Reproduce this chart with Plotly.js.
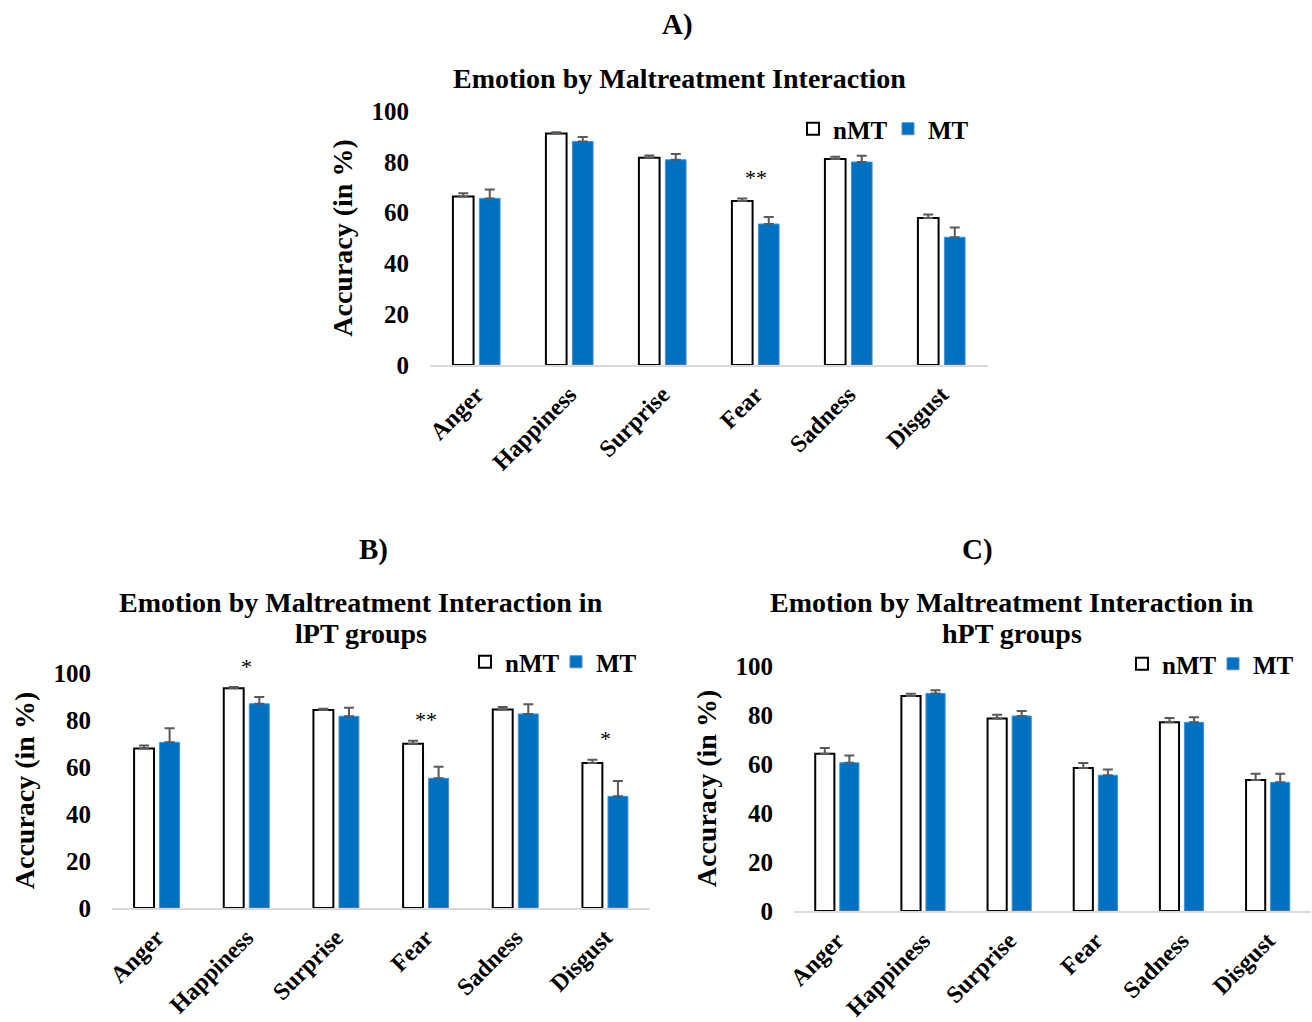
<!DOCTYPE html>
<html>
<head>
<meta charset="utf-8">
<script src="https://cdn.plot.ly/plotly-3.0.1.min.js"></script>
<style>html,body{margin:0;padding:0;background:#fff;} #chart{width:1312px;height:1022px;}</style>
</head>
<body>
<div id="chart"></div>
<script>
// ---- data ----
const categories = ['Anger', 'Happiness', 'Surprise', 'Fear', 'Sadness', 'Disgust'];
const groupNames = ['nMT', 'MT'];

const A_nMT    = [66.3, 91.1, 81.6, 64.6, 81.1, 57.9];
const A_nMT_se = [1.3, 0.5, 0.9, 1.0, 0.9, 1.4];
const A_MT     = [65.6, 88.0, 80.8, 55.5, 79.9, 50.3];
const A_MT_se  = [3.5, 1.8, 2.3, 2.8, 2.5, 3.8];
const A_sig    = ['', '', '', '**', '', ''];

const B_nMT    = [67.9, 93.5, 84.3, 69.9, 84.5, 61.7];
const B_nMT_se = [1.3, 0.5, 0.5, 1.3, 1.0, 1.4];
const B_MT     = [70.5, 86.9, 81.6, 55.2, 82.6, 47.5];
const B_MT_se  = [6.0, 2.9, 3.6, 4.9, 4.1, 6.5];
const B_sig    = ['', '*', '', '**', '', '*'];

const C_nMT    = [64.2, 87.8, 78.6, 58.4, 77.0, 53.5];
const C_nMT_se = [2.3, 0.9, 1.5, 2.0, 1.8, 2.5];
const C_MT     = [60.5, 88.8, 79.6, 55.4, 77.0, 52.5];
const C_MT_se  = [3.0, 1.3, 2.0, 2.4, 2.1, 3.5];
const C_sig    = ['', '', '', '', '', ''];

const yTicks = [0, 20, 40, 60, 80, 100];

// ---- styling ----
const FONT = 'Liberation Serif, Times New Roman, serif';
const W = 1312, H = 1022;
const blue = '#0070C0';
const errColor = '#595959';

function zeros(n) { return new Array(n).fill(0); }

function panelTraces(nmt, nmtSe, mt, mtSe, xa, ya, legendId) {
  return [
    {
      type: 'bar', name: groupNames[0], x: categories, y: nmt,
      xaxis: xa, yaxis: ya, legend: legendId,
      marker: { color: '#ffffff', line: { color: '#000000', width: 2 } },
      error_y: { type: 'data', symmetric: false, array: nmtSe, arrayminus: zeros(nmt.length),
                 color: errColor, thickness: 2, width: 5 },
      hoverinfo: 'x+y'
    },
    {
      type: 'bar', name: groupNames[1], x: categories, y: mt,
      xaxis: xa, yaxis: ya, legend: legendId,
      marker: { color: blue, line: { color: '#4a90d0', width: 1 } },
      error_y: { type: 'data', symmetric: false, array: mtSe, arrayminus: zeros(mt.length),
                 color: errColor, thickness: 2, width: 5 },
      hoverinfo: 'x+y'
    }
  ];
}

// significance stars: anchored at the top of the tallest error bar, lifted a few pixels
function sigNotes(nmt, nmtSe, mt, mtSe, sig, xa, ya) {
  const out = [];
  sig.forEach((s, i) => {
    if (!s) return;
    out.push({
      text: s, xref: xa, yref: ya, x: categories[i],
      y: Math.max(nmt[i] + nmtSe[i], mt[i] + mtSe[i]),
      xanchor: 'center', yanchor: 'middle', yshift: 21, showarrow: false,
      font: { family: FONT, size: 22, color: '#000' }
    });
  });
  return out;
}

const data = [].concat(
  panelTraces(A_nMT, A_nMT_se, A_MT, A_MT_se, 'x', 'y', 'legend'),
  panelTraces(B_nMT, B_nMT_se, B_MT, B_MT_se, 'x2', 'y2', 'legend2'),
  panelTraces(C_nMT, C_nMT_se, C_MT, C_MT_se, 'x3', 'y3', 'legend3')
);

function px2x(p) { return p / W; }
function px2y(p) { return 1 - p / H; }

function xAxis(d0, d1, anchor) {
  return {
    domain: [px2x(d0), px2x(d1)], anchor: anchor,
    type: 'category', categoryorder: 'array', categoryarray: categories,
    showline: true, linecolor: '#d9d9d9', linewidth: 2,
    showgrid: false, zeroline: false, ticks: '',
    tickangle: -45, ticklabelstandoff: 4,
    tickfont: { family: FONT, size: 24, color: '#000', weight: 'bold' }
  };
}
function yAxis(hundredPx, zeroPx, anchor) {
  return {
    domain: [px2y(zeroPx), px2y(hundredPx)], anchor: anchor,
    range: [0, 100], tickvals: yTicks, ticktext: yTicks.map(String),
    showline: false, showgrid: false, zeroline: false, ticks: '',
    ticklabelstandoff: 20,
    tickfont: { family: FONT, size: 25, color: '#000', weight: 'bold' },
    title: { text: '<b>Accuracy (in %)</b>', standoff: 10,
             font: { family: FONT, size: 28, color: '#000' } }
  };
}

function legendAt(xp, yp, ew) {
  return {
    orientation: 'h', x: px2x(xp), y: px2y(yp), xanchor: 'left', yanchor: 'middle',
    bgcolor: 'rgba(0,0,0,0)', borderwidth: 0,
    entrywidth: ew, entrywidthmode: 'pixels',
    font: { family: FONT, size: 25, color: '#000', weight: 'bold' },
    itemclick: false, itemdoubleclick: false
  };
}

function txt(text, xp, yp, size) {
  return {
    text: text, xref: 'paper', yref: 'paper', x: px2x(xp), y: px2y(yp),
    xanchor: 'center', yanchor: 'middle', showarrow: false,
    font: { family: FONT, size: size, color: '#000' }
  };
}

const layout = {
  width: W, height: H,
  margin: { l: 0, r: 0, t: 0, b: 0 },
  paper_bgcolor: '#ffffff', plot_bgcolor: '#ffffff',
  barmode: 'group', bargap: 0.43, bargroupgap: 0.22,
  font: { family: FONT, color: '#000' },
  xaxis: xAxis(430, 988, 'y'),
  yaxis: yAxis(111, 365, 'x'),
  xaxis2: xAxis(112, 650, 'y2'),
  yaxis2: yAxis(673, 908, 'x2'),
  xaxis3: xAxis(794, 1311, 'y3'),
  yaxis3: yAxis(666, 911, 'x3'),
  legend: legendAt(793, 129, 50),
  legend2: legendAt(465, 662, 46),
  legend3: legendAt(1122, 664, 46),
  annotations: [
    txt('<b>A)</b>', 677, 24, 29),
    txt('<b>Emotion by Maltreatment Interaction</b>', 679, 78, 28),
    txt('<b>B)</b>', 373, 549, 29),
    txt('<b>Emotion by Maltreatment Interaction in</b>', 361, 602, 28),
    txt('<b>lPT groups</b>', 361, 633, 28),
    txt('<b>C)</b>', 977, 549, 29),
    txt('<b>Emotion by Maltreatment Interaction in</b>', 1012, 602, 28),
    txt('<b>hPT groups</b>', 1012, 633, 28)
  ].concat(
    sigNotes(A_nMT, A_nMT_se, A_MT, A_MT_se, A_sig, 'x', 'y'),
    sigNotes(B_nMT, B_nMT_se, B_MT, B_MT_se, B_sig, 'x2', 'y2'),
    sigNotes(C_nMT, C_nMT_se, C_MT, C_MT_se, C_sig, 'x3', 'y3')
  ),
  showlegend: true
};

Plotly.newPlot('chart', data, layout, { displayModeBar: false, staticPlot: true });
</script>
</body>
</html>
